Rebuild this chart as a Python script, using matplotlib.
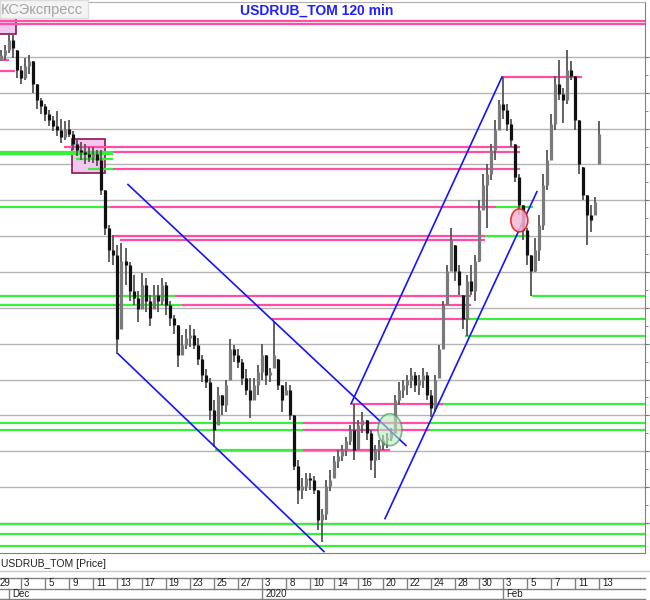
import matplotlib
matplotlib.use('Agg')
import matplotlib.pyplot as plt
from matplotlib.patches import Rectangle, Ellipse
from matplotlib.lines import Line2D
import numpy as np

plt.rcParams['font.family'] = ['Liberation Sans', 'DejaVu Sans']

# 120-min bars, three per trading day (x in trading days from Nov 29)
hi = [64.26, 64.30, 64.33, 64.42, 64.40, 64.30, 64.19, 64.24, 64.26, 64.22,
      64.06, 63.96, 63.92, 63.88, 63.84, 63.87, 63.82, 63.80, 63.81, 63.73,
      63.67, 63.66, 63.64, 63.62, 63.62, 63.60, 63.60, 63.32, 63.08, 63.01,
      62.94, 62.95, 62.92, 62.82, 62.73, 62.62, 62.74, 62.71, 62.59, 62.66,
      62.66, 62.71, 62.68, 62.55, 62.45, 62.38, 62.31, 62.35, 62.38, 62.35,
      62.29, 62.17, 62.07, 62.01, 61.86, 61.95, 61.89, 62.00, 62.28, 62.24,
      62.21, 62.14, 62.07, 62.01, 62.01, 62.10, 62.25, 62.17, 62.08, 62.40,
      62.14, 61.96, 61.98, 61.96, 61.75, 61.44, 61.31, 61.35, 61.35, 61.33,
      61.23, 61.10, 61.30, 61.37, 61.47, 61.51, 61.54, 61.60, 61.68, 61.83,
      61.72, 61.77, 61.72, 61.65, 61.54, 61.58, 61.61, 61.63, 61.66, 61.89,
      61.98, 62.00, 62.03, 62.08, 62.05, 62.03, 62.08, 62.05, 61.93, 62.03,
      62.24, 62.55, 62.80, 63.06, 62.94, 62.80, 62.59, 62.73, 62.80, 62.87,
      63.25, 63.43, 63.50, 63.64, 63.81, 63.95, 64.11, 63.92, 63.82, 63.64,
      63.43, 63.22, 63.06, 62.87, 62.99, 63.15, 63.43, 63.60, 63.85, 64.12,
      64.23, 64.03, 64.30, 64.22, 64.12, 63.81, 63.48, 63.29, 63.22, 63.27,
      63.80]
lo = [64.19, 64.22, 64.23, 64.28, 64.24, 64.10, 64.06, 64.09, 64.13, 64.00,
      63.89, 63.85, 63.80, 63.77, 63.73, 63.70, 63.65, 63.67, 63.69, 63.60,
      63.56, 63.53, 63.50, 63.52, 63.51, 63.49, 63.29, 63.01, 62.82, 62.80,
      62.18, 62.35, 62.66, 62.55, 62.52, 62.40, 62.49, 62.47, 62.37, 62.49,
      62.47, 62.52, 62.45, 62.37, 62.32, 62.09, 62.17, 62.21, 62.23, 62.21,
      62.10, 61.98, 61.94, 61.72, 61.53, 61.68, 61.75, 61.77, 62.00, 62.12,
      62.08, 61.96, 61.89, 61.73, 61.86, 61.89, 62.00, 61.96, 61.98, 62.08,
      61.93, 61.77, 61.89, 61.72, 61.37, 61.13, 61.17, 61.22, 61.23, 61.20,
      60.95, 60.87, 61.02, 61.22, 61.31, 61.38, 61.43, 61.47, 61.54, 61.44,
      61.51, 61.63, 61.58, 61.37, 61.31, 61.44, 61.51, 61.52, 61.57, 61.63,
      61.82, 61.87, 61.89, 61.94, 61.91, 61.89, 61.94, 61.86, 61.74, 61.77,
      62.01, 62.21, 62.52, 62.76, 62.69, 62.59, 62.35, 62.30, 62.59, 62.55,
      62.82, 63.18, 63.06, 63.39, 63.53, 63.74, 63.82, 63.73, 63.62, 63.38,
      63.15, 62.97, 62.80, 62.58, 62.75, 62.83, 63.04, 63.32, 63.53, 63.74,
      63.95, 63.79, 63.92, 64.09, 63.74, 63.43, 63.25, 62.94, 63.03, 63.15,
      63.50]
cl = [64.23, 64.26, 64.30, 64.37, 64.31, 64.16, 64.10, 64.19, 64.22, 64.06,
      63.95, 63.91, 63.85, 63.81, 63.77, 63.74, 63.69, 63.75, 63.71, 63.64,
      63.60, 63.59, 63.57, 63.55, 63.57, 63.53, 63.32, 63.06, 62.90, 62.87,
      62.28, 62.83, 62.80, 62.62, 62.57, 62.49, 62.66, 62.55, 62.43, 62.59,
      62.55, 62.66, 62.52, 62.43, 62.38, 62.17, 62.24, 62.29, 62.31, 62.24,
      62.14, 62.03, 61.98, 61.79, 61.65, 61.89, 61.82, 61.96, 62.21, 62.17,
      62.12, 62.01, 61.93, 61.86, 61.96, 62.05, 62.17, 62.03, 62.05, 62.17,
      61.96, 61.86, 61.93, 61.75, 61.40, 61.23, 61.26, 61.31, 61.30, 61.23,
      61.02, 61.06, 61.26, 61.30, 61.43, 61.47, 61.51, 61.57, 61.65, 61.51,
      61.68, 61.72, 61.63, 61.44, 61.51, 61.54, 61.58, 61.59, 61.63, 61.86,
      61.93, 61.96, 62.00, 62.03, 61.96, 62.00, 62.03, 61.89, 61.80, 62.00,
      62.21, 62.52, 62.76, 62.97, 62.76, 62.66, 62.42, 62.69, 62.62, 62.83,
      63.18, 63.36, 63.43, 63.60, 63.74, 63.92, 63.88, 63.78, 63.67, 63.41,
      63.22, 63.04, 62.87, 62.76, 62.90, 63.08, 63.36, 63.53, 63.78, 64.06,
      63.99, 63.95, 64.16, 64.12, 63.81, 63.50, 63.29, 63.15, 63.11, 63.24,
      63.71]

day_labels = ['29', '3', '5', '9', '11', '13', '17', '19', '23', '25', '27', '3', '8',
              '10', '14', '16', '20', '22', '24', '28', '30', '3', '5', '7', '11', '13']
month_labels = ['Dec', '2020', 'Feb']
month_start = [1, 22, 42]

# horizontal levels: (from day, to day, price)
pink_levels = [(0, 54, 64.50), (0, 54, 64.48), (0, 1.0, 64.23), (0, 1.49, 64.15),
               (5.56, 43.4, 63.62), (9.63, 43.4, 63.59), (9.63, 43.4, 63.47),
               (9.38, 41.41, 63.20), (9.71, 40.5, 63.00), (10.21, 40.5, 62.97),
               (14.77, 39.34, 62.58), (15.35, 39.34, 62.52), (22.82, 39.25, 62.42),
               (29.46, 37.01, 61.83), (25.39, 35.93, 61.70), (25.39, 35.93, 61.65),
               (25.39, 32.61, 61.51), (41.91, 48.55, 64.11)]
green_levels = [(0, 9.63, 63.59), (0, 9.63, 63.57), (6.56, 9.63, 63.54), (7.55, 9.63, 63.47),
                (0, 9.38, 63.20), (41.41, 44.48, 63.20), (40.5, 44.23, 63.00),
                (0, 14.77, 62.58), (44.37, 54, 62.58), (0, 15.35, 62.52),
                (39.25, 54, 62.42), (38.84, 54, 62.30), (37.01, 54, 61.83),
                (0, 25.39, 61.70), (35.93, 54, 61.70), (0, 25.39, 61.65), (35.93, 54, 61.65),
                (18.09, 25.39, 61.51), (0, 54, 60.99), (0, 54, 60.92), (0, 54, 60.84)]
# trend channels: (day1, price1, day2, price2)
trend_lines = [(10.87, 63.36, 33.94, 61.54), (10.04, 62.18, 27.14, 60.80),
               (29.38, 61.83, 41.91, 64.11), (32.2, 61.03, 44.81, 63.31)]
boxes = [(0, 1.58, 64.41, 64.52), (6.22, 8.96, 63.44, 63.68)]

fig = plt.figure(figsize=(6.5, 6), dpi=100)
ax = fig.add_axes([0, 47 / 600, 645 / 650, 551 / 600])
ax.set_xlim(0.25, 53.78)
ax.set_ylim(60.79, 64.633)

grid = np.arange(61.0, 64.26, 0.25)
for g in grid:
    ax.axhline(g, color='#b4b4b4', lw=1, zorder=0)

for x0, x1, y0, y1 in boxes:
    ax.add_patch(Rectangle((x0, y0), x1 - x0, y1 - y0, facecolor='#f2c6ee',
                           edgecolor='#8c1450', lw=1.2, zorder=1))

for x0, x1, p in pink_levels:
    ax.plot([x0, x1], [p, p], color='#ff4da6', lw=1.6, zorder=2, solid_capstyle='butt')
for x0, x1, p in green_levels:
    ax.plot([x0, x1], [p, p], color='#3cee3c', lw=1.6, zorder=2, solid_capstyle='butt')

# candles
xs = np.arange(len(hi)) / 3.0
prev = cl[0]
for x, h, l, c in zip(xs, hi, lo, cl):
    o = min(max(prev, l), h)
    ax.vlines(x, l, h, color='#555555', lw=1.3, zorder=3)
    col = '#111111' if c < o else '#7a7a7a'
    b0, b1 = min(o, c), max(o, c)
    if b1 - b0 < 0.01:
        b1 = b0 + 0.01
    ax.vlines(x, b0, b1, color=col, lw=2.3, zorder=3)
    prev = c

for x0, y0, x1, y1 in trend_lines:
    ax.plot([x0, x1], [y0, y1], color='#1414ff', lw=1.2, zorder=4)

ax.add_patch(Ellipse((43.35, 63.11), 1.41, 0.16, facecolor='#f4b8d4', edgecolor='#ee1111',
                     lw=1.2, alpha=0.85, zorder=5))
ax.add_patch(Ellipse((32.61, 61.65), 1.99, 0.223, facecolor='#bdebbd', edgecolor='#2e8b57',
                     lw=1.2, alpha=0.6, zorder=5))

ax.yaxis.tick_right()
ax.set_yticks(grid)
ax.set_yticks(grid[:-1] + 0.125, minor=True)
ax.tick_params(axis='y', which='major', length=3, color='#707070', labelright=False)
ax.tick_params(axis='y', which='minor', length=2, color='#707070')
ax.set_xticks([])
ax.spines['left'].set_visible(False)
ax.spines['top'].set_color('#b0b0b0')
ax.spines['right'].set_color('#808080')
ax.spines['bottom'].set_color('#808080')

# date strip
axd = fig.add_axes([0, 1 / 600, 645 / 650, 21 / 600])
axd.set_xlim(ax.get_xlim())
axd.set_ylim(0, 2)
axd.axis('off')
for yy in (0, 1, 2):
    axd.axhline(yy, color='#808080', lw=1, clip_on=False)
for k, lab in enumerate(day_labels):
    axd.plot([2 * k, 2 * k], [1, 2], color='#808080', lw=1)
    axd.text(2 * k + 0.25, 1.5, lab, fontsize=7, va='center', ha='left', color='#202020')
for m, lab in zip(month_start, month_labels):
    axd.plot([m, m], [0, 1], color='#808080', lw=1)
    axd.text(m + 0.25, 0.5, lab, fontsize=7, va='center', ha='left', color='#202020')

fig.add_artist(Line2D([0, 1], [1 - 571 / 600] * 2, color='#c8c8c8', lw=1))
fig.text(1 / 650, 1 - 564 / 600, 'USDRUB_TOM [Price]', fontsize=7.5, va='center', color='#202020')

# watermark and title
fig.add_artist(Rectangle((0, 1 - 18 / 600), 88 / 650, 18 / 600, transform=fig.transFigure,
                         facecolor='#f4f4f4', edgecolor='#dddddd', lw=1))
fig.text(0.5 / 650, 1 - 10 / 600, 'КСЭкспресс', fontsize=10.5, color='#a4a4a4', va='center')
fig.text(317 / 650, 1 - 11 / 600, 'USDRUB_TOM 120 min', fontsize=10, fontweight='bold',
         color='#1f1fff', ha='center', va='center')

fig.savefig('out.png', dpi=100)
